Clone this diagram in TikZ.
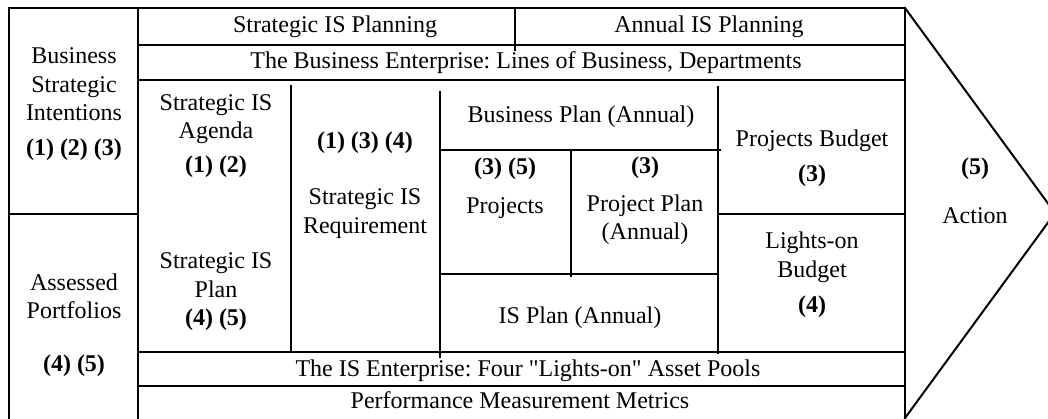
\documentclass[tikz,border=0pt]{standalone}
\usepackage{fontspec}
\setmainfont{Liberation Serif}[Ligatures=TeXOff]
\frenchspacing
\begin{document}
\begin{tikzpicture}[x=1pt,y=-1pt, line width=2pt, line cap=rect,
  txt/.style={align=center, inner sep=0pt, font=\fontsize{24}{28.5}\selectfont},
  frame/.style={line width=2.4pt}]
\useasboundingbox (0,0) rectangle (1048,418);
\clip (0,0) rectangle (1048,418);
% outer frames
\draw[frame] (9,430) -- (9,8) -- (905,8) -- (905,430);
\draw[frame] (138,8) -- (138,430);
\draw[frame] (9,214) -- (138,214);
% action arrow
\draw (905,8) -- (1055,213) -- (905,418);
% top rows
\draw (138,45) -- (905,45);
\draw (515,8) -- (515,50);
\draw (138,80) -- (905,80);
% inner grid
\draw (291,86) -- (291,352);
\draw (440,92) -- (440,357);
\draw (440,150) -- (720,150);
\draw (571,150) -- (571,276);
\draw (440,274) -- (718,274);
\draw (718,87) -- (718,353);
\draw (718,214) -- (905,214);
% bottom rows
\draw (138,352) -- (905,352);
\draw (138,386) -- (905,386);
% texts
\node[txt] (sisp) at (335,27) {Strategic IS Planning};
\node[txt] (aisp) at (709,27) {Annual IS Planning};
\node[txt] (be) at (526,63) {The Business Enterprise: Lines of Business, Departments};
\node[txt] (bsi) at (74,104) {Business\\Strategic\\Intentions\\[6pt]\textbf{(1) (2) (3)}};
\node[txt] (ap) at (74,325) {Assessed\\Portfolios\\[24pt]\textbf{(4) (5)}};
\node[txt] (sia) at (216,136) {Strategic IS\\Agenda\\[5pt]\textbf{(1) (2)}};
\node[txt] (sip) at (216,292) {Strategic IS\\Plan\\\textbf{(4) (5)}};
\node[txt] (sir) at (365,185) {\textbf{(1) (3) (4)}\\[28pt]Strategic IS\\Requirement};
\node[txt] (bp) at (581,117) {Business Plan (Annual)};
\node[txt] (proj) at (505,188) {\textbf{(3) (5)}\\[10pt]Projects};
\node[txt] (pp) at (645,201) {\textbf{(3)}\\[9pt]Project Plan\\(Annual)};
\node[txt] (isp) at (580,318) {IS Plan (Annual)};
\node[txt] (pb) at (812,158) {Projects Budget\\[6pt]\textbf{(3)}};
\node[txt] (lb) at (812,275) {Lights-on\\Budget\\[7pt]\textbf{(4)}};
\node[txt] (act) at (975,191) {\textbf{(5)}\\[20pt]Action};
\node[txt] (ise) at (528,371) {The IS Enterprise: Four "Lights-on" Asset Pools};
\node[txt] (pmm) at (520,400) {Performance Measurement Metrics};
\end{tikzpicture}
\end{document}
